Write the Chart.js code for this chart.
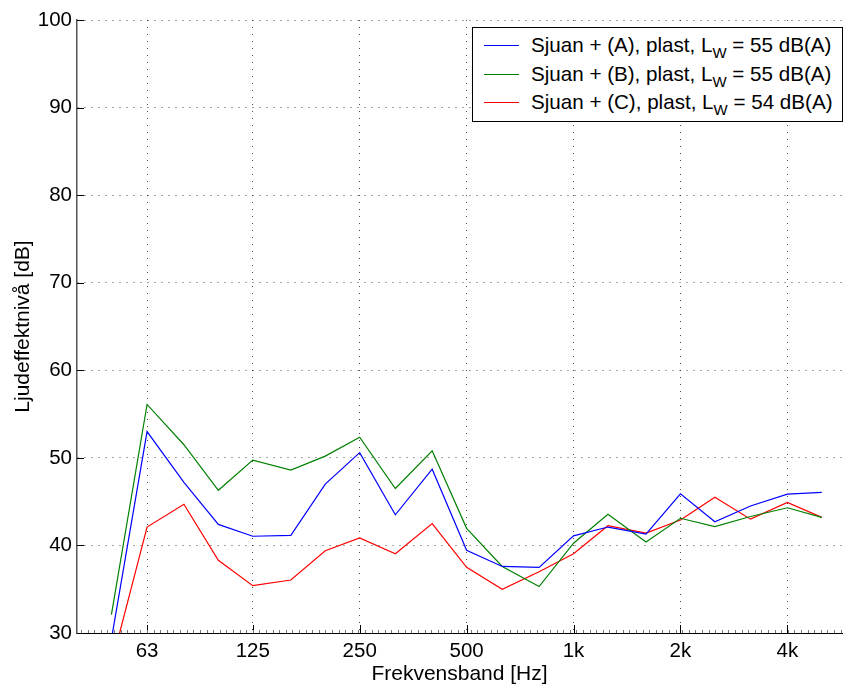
<!DOCTYPE html>
<html>
<head>
    <meta charset="utf-8">
    <title>Ljudeffektnivå</title>
    <script src="https://cdn.jsdelivr.net/npm/chart.js@4.4.1/dist/chart.umd.min.js"></script>
    <style>
        body { margin: 0; background: #fff; }
        #wrap { position: relative; width: 849px; height: 688px; }
        #legend {
            position: absolute; left: 472px; top: 27px; width: 369px; height: 93px;
            border: 1px solid #000; background: #fff;
            font-family: "Liberation Sans", Arial, sans-serif; font-size: 20.6px; color: #000;
        }
        #legend .row { position: absolute; left: 0; height: 24px; line-height: 24px; white-space: nowrap; }
        #legend .swatch { position: absolute; left: 11px; top: 12px; width: 35px; height: 1px; }
        #legend .txt { position: absolute; left: 58px; top: 0; }
        #legend sub { font-size: 15px; vertical-align: -6px; line-height: 0; }
    </style>
</head>
<body>
<div id="wrap">
    <canvas id="myChart" width="849" height="688"></canvas>
    <div id="legend"></div>
</div>

<script>
    // tersband, Hz
    let freqs = [50, 63, 80, 100, 125, 160, 200, 250, 315, 400, 500, 630, 800, 1000, 1250, 1600, 2000, 2500, 3150, 4000, 5000];
    let seriesA = [29.3, 53.0, 47.2, 42.4, 41.05, 41.15, 47.0, 50.6, 43.5, 48.7, 39.45, 37.6, 37.5, 41.1, 42.1, 41.3, 45.9, 42.7, 44.5, 45.85, 46.05];
    let seriesB = [32.1, 56.1, 51.5, 46.3, 49.75, 48.6, 50.2, 52.35, 46.5, 50.8, 41.95, 37.6, 35.3, 40.25, 43.55, 40.4, 43.1, 42.15, 43.3, 44.3, 43.2];
    let seriesC = [26.4, 42.1, 44.7, 38.3, 35.4, 36.05, 39.4, 40.85, 39.05, 42.5, 37.5, 35.0, 37.0, 39.05, 42.25, 41.4, 42.9, 45.5, 43.0, 44.9, 43.2];
    let names = ["Sjuan + (A), plast, L", "Sjuan + (B), plast, L", "Sjuan + (C), plast, L"];
    let lwValues = ["55 dB(A)", "55 dB(A)", "54 dB(A)"];
    let colors = ["#0000ff", "#008000", "#ff0000"];
    let xTickValues = [63, 125, 250, 500, 1000, 2000, 4000];
    let xTickLabels = ["63", "125", "250", "500", "1k", "2k", "4k"];
    let yTicks = [30, 40, 50, 60, 70, 80, 90, 100];

    const fontFam = '"Liberation Sans", Arial, sans-serif';

    function toPoints(vals) {
        let pts = [];
        for (let i = 0; i < freqs.length; i++) {
            pts.push({x: freqs[i], y: vals[i]});
        }
        return pts;
    }

    // inward tick marks (matlab style) + small minor ticks on x
    const inTicks = {
        id: 'inTicks',
        afterDraw(chart) {
            let ctx = chart.ctx;
            let xs = chart.scales.x, ys = chart.scales.y;
            let area = chart.chartArea;
            ctx.save();
            ctx.strokeStyle = '#000';
            ctx.lineWidth = 1;
            ctx.beginPath();
            for (let v of xTickValues) {
                let px = Math.round(xs.getPixelForValue(v)) + 0.5;
                ctx.moveTo(px, area.bottom);
                ctx.lineTo(px, area.bottom - 8);
            }
            for (let v of yTicks) {
                let py = Math.round(ys.getPixelForValue(v)) + 0.5;
                ctx.moveTo(area.left, py);
                ctx.lineTo(area.left + 7, py);
            }
            ctx.stroke();

            let oct = xs.getPixelForValue(xTickValues[1]) - xs.getPixelForValue(xTickValues[0]);
            let step = oct / 16;
            let x0 = xs.getPixelForValue(xTickValues[0]);
            ctx.strokeStyle = '#777';
            ctx.beginPath();
            for (let px = x0 - Math.floor((x0 - area.left) / step) * step; px < area.right; px += step) {
                let rx = Math.round(px) + 0.5;
                ctx.moveTo(rx, area.bottom);
                ctx.lineTo(rx, area.bottom - 3);
            }
            ctx.stroke();
            ctx.restore();
        }
    };

    let datasets = [seriesA, seriesB, seriesC].map(function (s, i) {
        return {
            label: names[i] + "W = " + lwValues[i],
            data: toPoints(s),
            borderColor: colors[i],
            backgroundColor: colors[i],
            borderWidth: 1.2,
            pointRadius: 0,
            tension: 0,
            fill: false
        };
    });

    new Chart(document.getElementById("myChart"), {
        type: "line",
        data: {datasets: datasets},
        options: {
            responsive: false,
            animation: false,
            layout: {padding: {top: 20, right: 7, left: 0, bottom: 0}},
            plugins: {legend: {display: false}, tooltip: {enabled: false}},
            scales: {
                x: {
                    type: 'logarithmic',
                    min: 40,
                    max: 5700,
                    afterBuildTicks: function (scale) {
                        scale.ticks = xTickValues.map(function (v) { return {value: v}; });
                    },
                    afterFit: function (scale) { scale.height = 55; },
                    ticks: {
                        autoSkip: false,
                        maxRotation: 0,
                        padding: 6,
                        color: '#000',
                        font: {family: fontFam, size: 20.5},
                        callback: function (v) {
                            let i = xTickValues.indexOf(v);
                            return i >= 0 ? xTickLabels[i] : '';
                        }
                    },
                    grid: {color: 'rgba(0,0,0,0.7)', drawTicks: false, lineWidth: 1},
                    border: {display: true, color: '#000', width: 1, dash: [1, 6]},
                    title: {
                        display: true, text: 'Frekvensband [Hz]', color: '#000',
                        font: {family: fontFam, size: 21}, padding: {top: 0, bottom: 1}
                    }
                },
                y: {
                    min: 30,
                    max: 100,
                    afterBuildTicks: function (scale) {
                        scale.ticks = yTicks.map(function (v) { return {value: v}; });
                    },
                    afterFit: function (scale) { scale.width = 77; },
                    ticks: {
                        padding: 5,
                        color: '#000',
                        font: {family: fontFam, size: 20.5}
                    },
                    grid: {color: 'rgba(0,0,0,0.7)', drawTicks: false, lineWidth: 1},
                    border: {display: true, color: '#555', width: 1.5, dash: [1, 6]},
                    title: {
                        display: true, text: 'Ljudeffektnivå [dB]', color: '#000',
                        font: {family: fontFam, size: 21}, padding: {top: 11, bottom: 0}
                    }
                }
            }
        },
        plugins: [inTicks]
    });

    // legend with subscript W
    let legend = document.getElementById("legend");
    for (let i = 0; i < names.length; i++) {
        let row = document.createElement("div");
        row.className = "row";
        row.style.top = (5 + i * 28.5) + "px";
        row.innerHTML = "<span class='swatch' style='background:" + colors[i] + "'></span>" +
            "<span class='txt'>" + names[i] + "<sub>W</sub> = " + lwValues[i] + "</span>";
        legend.appendChild(row);
    }
</script>
</body>
</html>
